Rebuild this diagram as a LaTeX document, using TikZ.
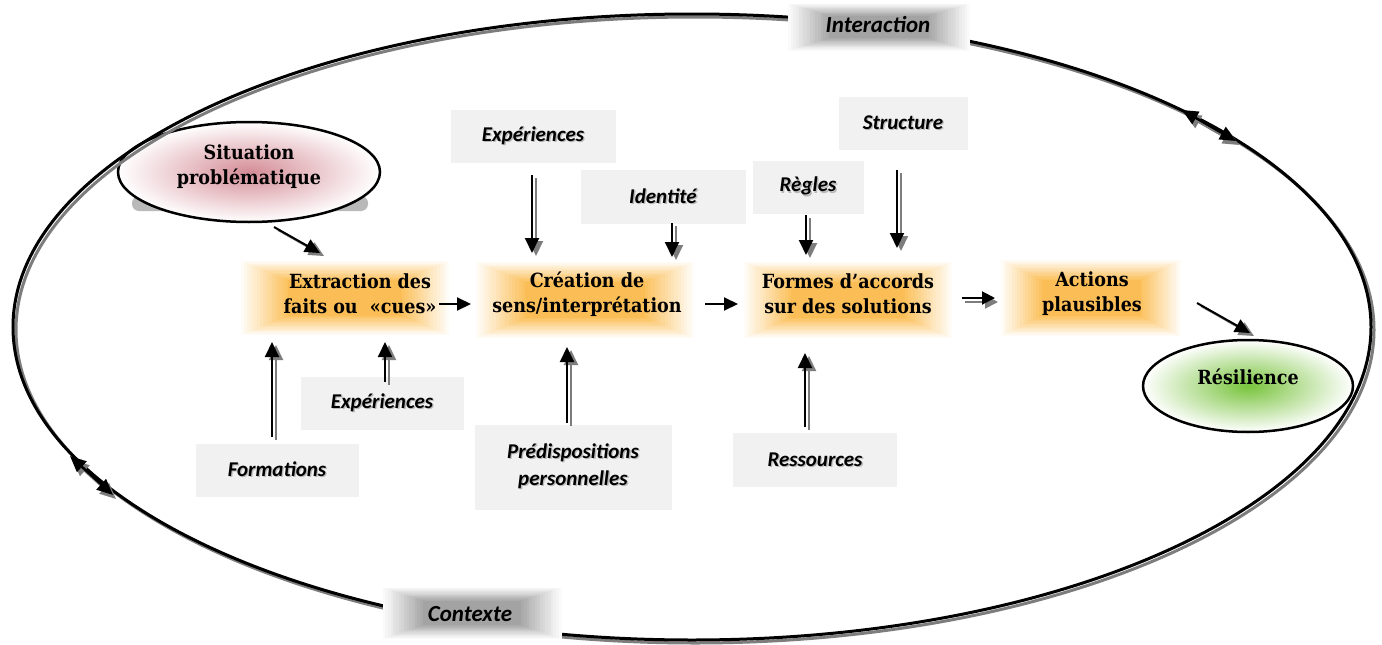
\documentclass[tikz,border=0pt]{standalone}
\usepackage{fontspec}
\setmainfont{Liberation Serif}
\newfontfamily\cambria{DejaVu Serif Condensed Bold}
\newfontfamily\calibri{Carlito Bold Italic}
\usetikzlibrary{arrows.meta,shapes.geometric,calc}
\definecolor{glowc}{RGB}{250,165,20}
\definecolor{shgray}{RGB}{125,125,125}
\definecolor{pinkc}{RGB}{212,140,150}
\definecolor{greenc}{RGB}{120,195,60}
\newcommand\shd[1]{\leavevmode\rlap{\kern1.3pt\raisebox{-1.3pt}{\color{gray!55}#1}}#1}
% #1 cx, #2 cy, #3 w, #4 h, #5 colour, #6 min %, #7 max %
\newcommand\glowrect[7]{%
  \foreach \k in {0,...,15}{%
    \pgfmathsetmacro\hw{#3/2*(1-\k*0.03)}%
    \pgfmathsetmacro\hh{#4/2*(1-\k*0.035)}%
    \pgfmathtruncatemacro\pc{#6+(#7-#6)*\k/15}%
    \fill[#5!\pc!white] (#1-\hw,#2-\hh) rectangle (#1+\hw,#2+\hh);
  }}
\tikzset{
  mainnode/.style={font=\cambria\fontsize{19.5}{25}\selectfont, align=center, inner sep=0pt},
  lbl/.style={font=\calibri\fontsize{21}{27}\selectfont, align=center, fill=gray!11, inner sep=0pt},
  biglbl/.style={font=\calibri\fontsize{23}{27}\selectfont, inner sep=0pt},
  >={Triangle[length=15pt,width=14pt]},
  arr/.style={line width=2pt,->,preaction={draw=shgray,line width=2pt,->,transform canvas={shift={(4pt,-3pt)}}}},
  plainarr/.style={line width=2pt,-{Triangle[length=14pt,width=13pt]}},
  harr/.style={line width=2pt,-{Triangle[length=13pt,width=13pt]},preaction={draw=shgray,line width=2pt,-{Triangle[length=13pt,width=13pt]},transform canvas={shift={(3pt,-4pt)}}}},
  darr/.style={line width=2.5pt,{Triangle[length=16pt,width=14pt]}-{Triangle[length=16pt,width=14pt]},preaction={draw=shgray,line width=2.5pt,{Triangle[length=16pt,width=14pt]}-{Triangle[length=16pt,width=14pt]},transform canvas={shift={(3pt,-4pt)}}}},
}
\begin{document}
\begin{tikzpicture}[x=1pt,y=-1pt]
\useasboundingbox[fill=white] (0,0) rectangle (1382,645);

% glows behind the main steps
\glowrect{345}{298}{208}{74}{glowc}{4}{72}
\glowrect{585}{300}{218}{76}{glowc}{4}{72}
\glowrect{848}{300}{208}{76}{glowc}{4}{72}
\glowrect{1091}{298}{180}{76}{glowc}{4}{72}

% grey label boxes
\node[lbl, minimum width=165, minimum height=53] (expT) at (533,136) {\shd{Expériences}};
\node[lbl, minimum width=165, minimum height=54] (ident) at (663,197) {\shd{Identité}};
\node[lbl, minimum width=111, minimum height=53] (regles) at (808,187) {\shd{Règles}};
\node[lbl, minimum width=129, minimum height=53] (struct) at (903,123) {\shd{Structure}};
\node[lbl, minimum width=163, minimum height=53] (expB) at (382,403) {\shd{Expériences}};
\node[lbl, minimum width=163, minimum height=53] (form) at (277,470) {\shd{Formations}};
\node[lbl, minimum width=197, minimum height=85] (predis) at (573,467) {\shd{Prédispositions}\\\shd{personnelles}};
\node[lbl, minimum width=164, minimum height=54] (ress) at (815,460) {\shd{Ressources}};

% situation problematique
\fill[gray!55, rounded corners=7pt] (132,196) rectangle (368,211);
\node[ellipse, draw, line width=2.5pt, minimum width=262, minimum height=100,
      shading=radial, inner color=pinkc, outer color=white] (sit) at (249,172) {};
\node[mainnode] (sittxt) at (249,167) {Situation\\problématique};

% resilience
\node[ellipse, draw, line width=2.5pt, minimum width=210, minimum height=92,
      shading=radial, inner color=greenc, outer color=white] (res) at (1248,386) {};
\node[mainnode] (restxt) at (1248,377) {Résilience};

% big ellipse
\draw[shgray, line width=3pt] (695,330) ellipse [x radius=679pt, y radius=313pt];
\draw[line width=3pt] (692,327) ellipse [x radius=679pt, y radius=313pt];

% Interaction / Contexte labels
\glowrect{879}{27}{182}{47}{black}{2}{36}
\node[biglbl] (inter) at (878,25) {Interaction};
\glowrect{472}{613}{179}{51}{black}{2}{36}
\node[biglbl] (ctx) at (470,614) {Contexte};

% main steps
\node[mainnode] (ext) at (360,294) {Extraction des\\faits ou~ «cues»};
\node[mainnode] (cre) at (587,294) {Création de\\sens/interprétation};
\node[mainnode] (frm) at (848,294) {Formes d’accords\\sur des solutions};
\node[mainnode] (act) at (1092,294) {Actions\\plausibles};

% connector end points
\coordinate (a1s) at (274,227); \coordinate (a1e) at (320,253);
\coordinate (a2s) at (439,304); \coordinate (a2e) at (471,304);
\coordinate (a3s) at (705,304); \coordinate (a3e) at (738,304);
\coordinate (a4s) at (962,298); \coordinate (a4e) at (995,298);
\coordinate (a5s) at (1197,303); \coordinate (a5e) at (1250,333);
\coordinate (a6s) at (532,175); \coordinate (a6e) at (532,253);
\coordinate (a7s) at (672,223); \coordinate (a7e) at (672,257);
\coordinate (a8s) at (806,215); \coordinate (a8e) at (806,255);
\coordinate (a9s) at (897,170); \coordinate (a9e) at (897,248);
\coordinate (b1s) at (272,437); \coordinate (b1e) at (272,342);
\coordinate (b2s) at (385,382); \coordinate (b2e) at (385,342);
\coordinate (b3s) at (567,423); \coordinate (b3e) at (567,347);
\coordinate (b4s) at (805,427); \coordinate (b4e) at (805,353);
\coordinate (d1s) at (1182,110); \coordinate (d1e) at (1236,141);
\coordinate (d2s) at (70,456); \coordinate (d2e) at (113,495);

\draw[arr] (a1s) -- (a1e);
\draw[plainarr] (a2s) -- (a2e);
\draw[plainarr] (a3s) -- (a3e);
\draw[harr] (a4s) -- (a4e);
\draw[arr] (a5s) -- (a5e);
\draw[arr] (a6s) -- (a6e);
\draw[arr] (a7s) -- (a7e);
\draw[arr] (a8s) -- (a8e);
\draw[arr] (a9s) -- (a9e);
\draw[arr] (b1s) -- (b1e);
\draw[arr] (b2s) -- (b2e);
\draw[arr] (b3s) -- (b3e);
\draw[arr] (b4s) -- (b4e);
\draw[darr] (d1s) -- (d1e);
\draw[darr] (d2s) -- (d2e);
\end{tikzpicture}
\end{document}
